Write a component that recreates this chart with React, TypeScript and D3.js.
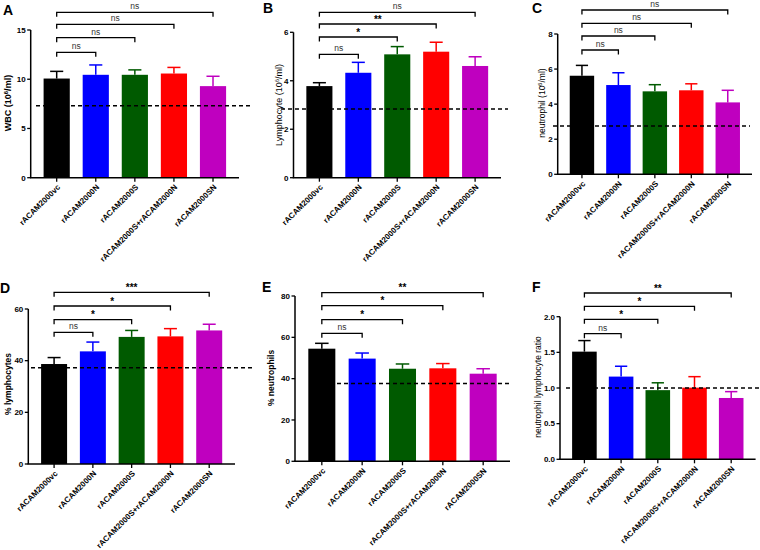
import React from "react";
import * as d3 from "d3";

const categories = ["rACAM2000vc", "rACAM2000N", "rACAM2000S", "rACAM2000S+rACAM2000N", "rACAM2000SN"];
const barColors = ["#000000", "#0000ff", "#005a00", "#ff0000", "#bf00bf"];

const wbcMean = [10.07, 10.45, 10.45, 10.58, 9.3];
const wbcSem = [0.73, 1.0, 0.5, 0.62, 1.0];
const lymMean = [3.78, 4.33, 5.09, 5.2, 4.61];
const lymSem = [0.14, 0.43, 0.32, 0.39, 0.38];
const neuMean = [5.62, 5.09, 4.73, 4.79, 4.1];
const neuSem = [0.59, 0.7, 0.38, 0.37, 0.69];
const pctLymMean = [38.7, 43.6, 49.2, 49.4, 51.7];
const pctLymSem = [2.5, 3.6, 2.5, 3.0, 2.4];
const pctNeuMean = [54.5, 49.7, 44.8, 45.0, 42.4];
const pctNeuSem = [2.6, 2.7, 2.3, 2.3, 2.4];
const nlrMean = [1.51, 1.16, 0.97, 1.005, 0.86];
const nlrSem = [0.155, 0.145, 0.103, 0.154, 0.089];

const refLines = [7.3, 2.83, 2.75, 37.3, 37.6, 1.0];

const sigA = ["ns", "ns", "ns", "ns"];
const sigB = ["ns", "*", "**", "ns"];
const sigC = ["ns", "ns", "ns", "ns"];
const sigD = ["ns", "*", "*", "***"];
const sigE = ["ns", "*", "*", "**"];
const sigF = ["ns", "*", "*", "**"];

const ticksA = [0, 5, 10, 15];
const ticksB = [0, 2, 4, 6];
const ticksC = [0, 2, 4, 6, 8];
const ticksD = [0, 20, 40, 60];
const ticksE = [0, 20, 40, 60, 80];
const ticksF = [0, 0.5, 1.0, 1.5, 2.0];

type Panel = {
  letter: string;
  mean: number[];
  sem: number[];
  ref: number;
  sig: string[];
  ticks: number[];
  tickFmt: (v: number) => string;
  label: React.ReactNode;
  labelSize: number;
  labelBold: boolean;
  labelX: number;
  labelY: number;
  x0: number;
  x1: number;
  yB: number;
  yT: number;
  brY: number[];
  dashX0: number;
  dashX1: number;
  letterX: number;
  letterY: number;
};

const sup = (pre: string) => (
  <>
    {pre} (10<tspan baselineShift="super" fontSize="0.65em">6</tspan>/ml)
  </>
);

const fmt0 = (v: number) => d3.format("d")(v);
const fmt1 = (v: number) => d3.format(".1f")(v);

const panels: Panel[] = [
  { letter: "A", mean: wbcMean, sem: wbcSem, ref: refLines[0], sig: sigA, ticks: ticksA, tickFmt: fmt0,
    label: sup("WBC"), labelSize: 9, labelBold: true, labelX: 11, labelY: 103,
    x0: 30.7, x1: 239, yB: 177.7, yT: 30, brY: [52.3, 37.7, 24.3, 12.3], dashX0: 36, dashX1: 253, letterX: 3, letterY: 15 },
  { letter: "B", mean: lymMean, sem: lymSem, ref: refLines[1], sig: sigB, ticks: ticksB, tickFmt: fmt0,
    label: sup("Lymphocyte"), labelSize: 9, labelBold: false, labelX: 282, labelY: 105,
    x0: 293.5, x1: 501, yB: 177.7, yT: 32.3, brY: [54.3, 37, 24, 12.3], dashX0: 281, dashX1: 508, letterX: 263, letterY: 13 },
  { letter: "C", mean: neuMean, sem: neuSem, ref: refLines[2], sig: sigC, ticks: ticksC, tickFmt: fmt0,
    label: sup("neutrophil"), labelSize: 8.5, labelBold: false, labelX: 545, labelY: 103,
    x0: 557.7, x1: 752, yB: 174.3, yT: 34, brY: [50, 36, 23.3, 10], dashX0: 553, dashX1: 750, letterX: 532, letterY: 13 },
  { letter: "D", mean: pctLymMean, sem: pctLymSem, ref: refLines[3], sig: sigD, ticks: ticksD, tickFmt: fmt0,
    label: "% lymphocytes", labelSize: 8.5, labelBold: true, labelX: 11, labelY: 384,
    x0: 28.3, x1: 235, yB: 464, yT: 309, brY: [332.3, 319.7, 306, 292.3], dashX0: 31, dashX1: 252, letterX: 0, letterY: 293 },
  { letter: "E", mean: pctNeuMean, sem: pctNeuSem, ref: refLines[4], sig: sigE, ticks: ticksE, tickFmt: fmt0,
    label: "% neutrophils", labelSize: 8.5, labelBold: true, labelX: 274, labelY: 378,
    x0: 295, x1: 510, yB: 461.3, yT: 296, brY: [333.3, 319.7, 305.7, 292.7], dashX0: 330, dashX1: 512, letterX: 262, letterY: 292 },
  { letter: "F", mean: nlrMean, sem: nlrSem, ref: refLines[5], sig: sigF, ticks: ticksF, tickFmt: fmt1,
    label: "neutrophil lymphocyte ratio", labelSize: 8.5, labelBold: false, labelX: 541, labelY: 387,
    x0: 560, x1: 755.6, yB: 459.3, yT: 316.7, brY: [333.7, 319.3, 306.3, 293], dashX0: 566, dashX1: 760, letterX: 532, letterY: 292 },
];

const FONT = "'Liberation Sans', Arial, Helvetica, sans-serif";

function PanelView({ p }: { p: Panel }) {
  const yMax = p.ticks[p.ticks.length - 1];
  const y = d3.scaleLinear().domain([0, yMax]).range([p.yB, p.yT]);
  const x = d3.scaleBand<string>().domain(categories).range([p.x0, p.x1]).padding(0.33);
  const bw = x.bandwidth();
  const cx = (c: string) => (x(c) as number) + bw / 2;
  const capW = bw * 0.5;
  return (
    <g fontFamily={FONT}>
      <text x={p.letterX} y={p.letterY} fontSize={14} fontWeight="bold" fill="#000">{p.letter}</text>
      {/* bars */}
      {categories.map((c, i) => {
        const top = y(p.mean[i] + p.sem[i]);
        return (
          <g key={c}>
            <rect x={x(c)} y={y(p.mean[i])} width={bw} height={p.yB - y(p.mean[i])} fill={barColors[i]} />
            <line x1={cx(c)} x2={cx(c)} y1={y(p.mean[i])} y2={top} stroke={barColors[i]} strokeWidth={1.5} />
            <line x1={cx(c) - capW / 2} x2={cx(c) + capW / 2} y1={top} y2={top} stroke={barColors[i]} strokeWidth={1.5} />
          </g>
        );
      })}
      {/* reference line */}
      <line x1={p.dashX0} x2={p.dashX1} y1={y(p.ref)} y2={y(p.ref)} stroke="#000" strokeWidth={1.5} strokeDasharray="4,3" />
      {/* y axis */}
      <line x1={p.x0} x2={p.x0} y1={p.yB} y2={p.yT} stroke="#000" strokeWidth={1.5} />
      {p.ticks.map((t) => (
        <g key={t}>
          <line x1={p.x0 - 3.5} x2={p.x0} y1={y(t)} y2={y(t)} stroke="#000" strokeWidth={1.3} />
          <text x={p.x0 - 5} y={y(t)} dy="0.35em" textAnchor="end" fontSize={8} fontWeight="bold" fill="#000">{p.tickFmt(t)}</text>
        </g>
      ))}
      {/* x axis */}
      <line x1={p.x0 - 0.75} x2={p.x1} y1={p.yB} y2={p.yB} stroke="#000" strokeWidth={1.5} />
      {categories.map((c) => (
        <g key={c}>
          <line x1={cx(c)} x2={cx(c)} y1={p.yB} y2={p.yB + 4} stroke="#000" strokeWidth={1.3} />
          <text transform={`translate(${cx(c) + 2},${p.yB + 8}) rotate(-45)`} textAnchor="end" dy="0.35em" fontSize={8} fontWeight="bold" fill="#000">{c}</text>
        </g>
      ))}
      {/* y label */}
      <text transform={`translate(${p.labelX},${p.labelY}) rotate(-90)`} textAnchor="middle" fontSize={p.labelSize} fontWeight={p.labelBold ? "bold" : "normal"} fill="#000">{p.label}</text>
      {/* brackets */}
      {p.sig.map((s, k) => {
        const a = cx(categories[0]);
        const b = cx(categories[k + 1]);
        const by = p.brY[k];
        const isNs = s === "ns";
        return (
          <g key={k}>
            <path d={`M${a},${by + 4.5}V${by}H${b}V${by + 4.5}`} fill="none" stroke="#000" strokeWidth={1.3} />
            <text x={(a + b) / 2} y={by - (isNs ? 3 : 1.5)} textAnchor="middle" fontSize={isNs ? 8.5 : 10} fontWeight={isNs ? "normal" : "bold"} fill={isNs ? "#333" : "#000"}>{s}</text>
          </g>
        );
      })}
    </g>
  );
}

export default function App() {
  return (
    <svg width={760} height={550} style={{ position: "absolute", left: 0, top: 0, background: "#fff" }}>
      <rect width={760} height={550} fill="#fff" />
      {panels.map((p) => (
        <PanelView key={p.letter} p={p} />
      ))}
    </svg>
  );
}
